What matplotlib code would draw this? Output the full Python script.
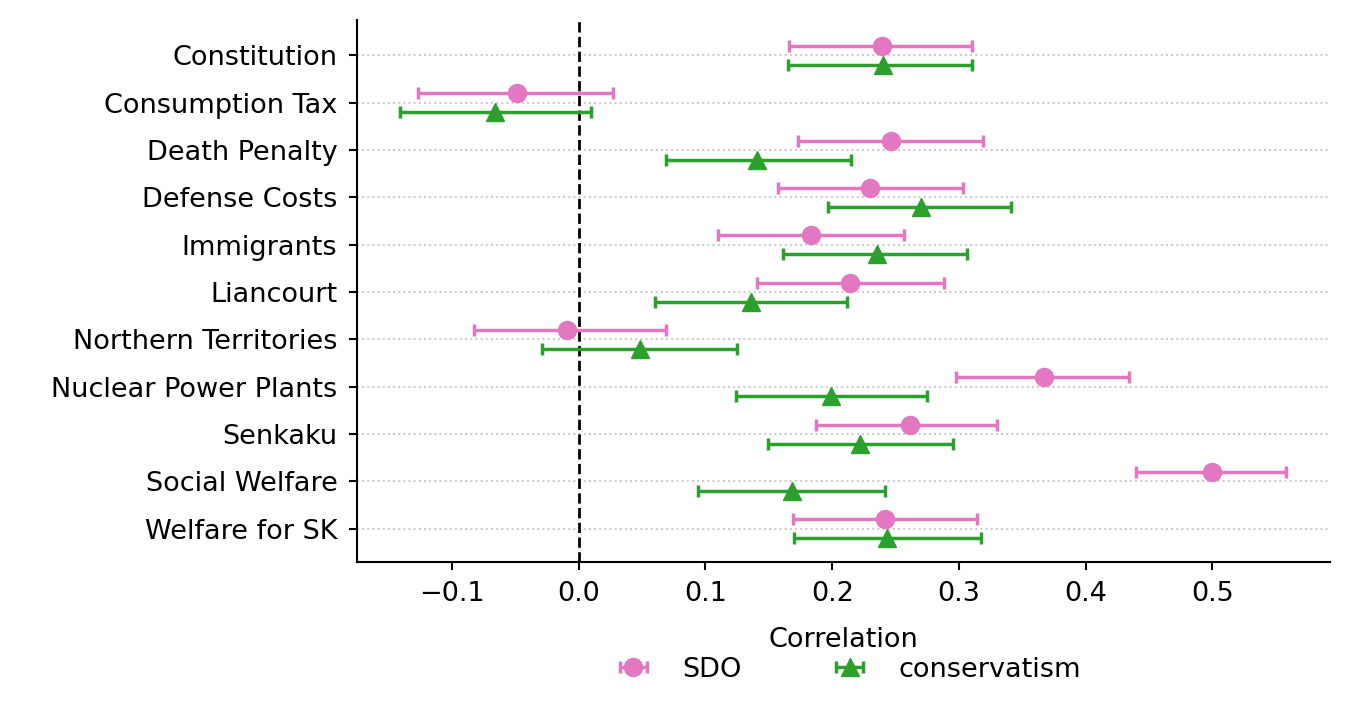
import numpy as np
import matplotlib
matplotlib.use('Agg')
import matplotlib.pyplot as plt

topics = ["Constitution", "Consumption Tax", "Death Penalty", "Defense Costs",
          "Immigrants", "Liancourt", "Northern Territories", "Nuclear Power Plants",
          "Senkaku", "Social Welfare", "Welfare for SK"]
sdo = [0.239, -0.049, 0.246, 0.230, 0.183, 0.214, -0.009, 0.367, 0.261, 0.500, 0.242]
sdo_lo = [0.166, -0.127, 0.173, 0.157, 0.110, 0.141, -0.083, 0.298, 0.187, 0.440, 0.169]
sdo_hi = [0.310, 0.027, 0.319, 0.303, 0.257, 0.288, 0.069, 0.434, 0.330, 0.558, 0.314]
cons = [0.240, -0.066, 0.141, 0.270, 0.235, 0.136, 0.048, 0.199, 0.222, 0.168, 0.243]
cons_lo = [0.165, -0.141, 0.069, 0.197, 0.161, 0.060, -0.029, 0.124, 0.149, 0.094, 0.170]
cons_hi = [0.310, 0.010, 0.215, 0.341, 0.306, 0.212, 0.125, 0.275, 0.295, 0.242, 0.317]

fs = 19.5
fig = plt.figure(figsize=(13.52, 7.14), dpi=100)
ax = fig.add_axes([0.264, 0.213, 0.72, 0.759])
y = np.arange(len(topics))

def draw(vals, lo, hi, off, color, marker, label):
    vals, lo, hi = map(np.array, (vals, lo, hi))
    ax.errorbar(vals, y + off, xerr=[vals - lo, hi - vals], fmt=marker,
                color=color, ms=13, elinewidth=2.5, capsize=4, capthick=2.5,
                label=label, zorder=3)

draw(sdo, sdo_lo, sdo_hi, -0.2, '#e377c2', 'o', 'SDO')
draw(cons, cons_lo, cons_hi, 0.2, '#2ca02c', '^', 'conservatism')

for yi in y:
    ax.axhline(yi, color='#c8c8c8', ls=':', lw=1.4, zorder=0)
ax.axvline(0, color='black', ls='--', lw=2)
ax.set_yticks(y)
ax.set_yticklabels(topics, fontsize=fs)
ax.set_ylim(len(topics) - 0.3, -0.75)
ax.set_xlim(-0.175, 0.593)
ax.set_xticks([-0.1, 0, 0.1, 0.2, 0.3, 0.4, 0.5])
ax.set_xticklabels(['\u22120.1', '0.0', '0.1', '0.2', '0.3', '0.4', '0.5'], fontsize=fs)
ax.set_xlabel('Correlation', fontsize=fs, labelpad=14)
ax.tick_params(width=1.5, length=6, pad=8)
for s in ['top', 'right']:
    ax.spines[s].set_visible(False)
for s in ['left', 'bottom']:
    ax.spines[s].set_linewidth(1.5)
ax.legend(loc='upper center', bbox_to_anchor=(0.5, -0.15), ncol=2,
          frameon=False, fontsize=fs, columnspacing=3, borderpad=0)
fig.savefig('out.png', dpi=100)
